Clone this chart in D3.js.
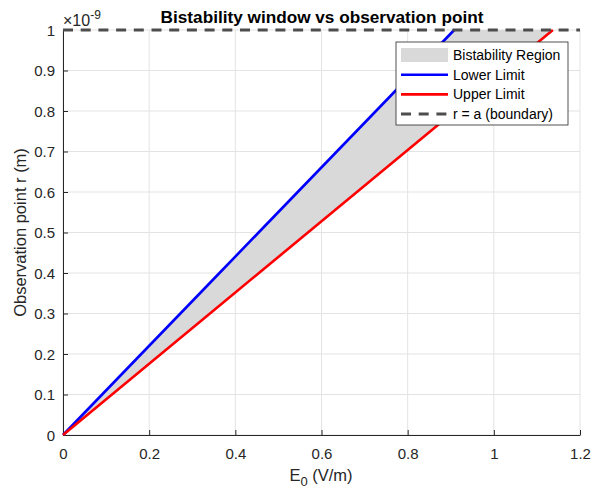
<!DOCTYPE html>
<html><head><meta charset="utf-8">
<script src="https://cdn.jsdelivr.net/npm/d3@7"></script>
<style>body{margin:0;background:#fff;} text{font-family:"Liberation Sans",Arial,sans-serif;}</style>
</head><body>
<svg id="c" width="592" height="493"></svg>
<script>
// Data (r in units of 1e-9 m)
const rVals = [0, 0.1, 0.2, 0.3, 0.4, 0.5, 0.6, 0.7, 0.8, 0.9, 1.0];
const lowerE = [0, 0.0908, 0.1816, 0.2724, 0.3632, 0.454, 0.5448, 0.6356, 0.7264, 0.8172, 0.908];
const upperE = [0, 0.1137, 0.2274, 0.3411, 0.4548, 0.5685, 0.6822, 0.7959, 0.9096, 1.0233, 1.137];
const boundaryR = 1.0;
const xTicks = [0, 0.2, 0.4, 0.6, 0.8, 1, 1.2];
const yTicks = [0, 0.1, 0.2, 0.3, 0.4, 0.5, 0.6, 0.7, 0.8, 0.9, 1];
const legendLabels = ["Bistability Region", "Lower Limit", "Upper Limit", "r = a (boundary)"];

const svg = d3.select("#c");
const L = 63, R = 580, T = 30, B = 435;
const x = d3.scaleLinear().domain([0, 1.2]).range([L, R]);
const y = d3.scaleLinear().domain([0, 1]).range([B, T]);

// grid
const g = svg.append("g");
g.selectAll(".gx").data(xTicks).enter().append("line")
  .attr("x1", d => x(d)).attr("x2", d => x(d)).attr("y1", T).attr("y2", B)
  .attr("stroke", "#e3e3e3").attr("stroke-width", 1);
g.selectAll(".gy").data(yTicks).enter().append("line")
  .attr("x1", L).attr("x2", R).attr("y1", d => y(d)).attr("y2", d => y(d))
  .attr("stroke", "#e3e3e3").attr("stroke-width", 1);

// fill region
const pts = rVals.map((r, i) => ({r, lo: lowerE[i], up: upperE[i]}));
svg.append("path")
  .attr("d", d3.area().x0(d => x(d.lo)).x1(d => x(d.up)).y(d => y(d.r))(pts))
  .attr("fill", "#d9d9d9");

// axes
const xAxis = d3.axisBottom(x).tickValues(xTicks).tickFormat(d3.format("~g")).tickSizeInner(-5).tickSizeOuter(0);
const yAxis = d3.axisLeft(y).tickValues(yTicks).tickFormat(d3.format("~g")).tickSizeInner(-5).tickSizeOuter(0).tickPadding(8);
const ax = svg.append("g").attr("transform", `translate(0,${B})`).call(xAxis);
const ay = svg.append("g").attr("transform", `translate(${L},0)`).call(yAxis);
[ax, ay].forEach(a => {
  a.select(".domain").attr("stroke", "#262626");
  a.selectAll(".tick line").attr("stroke", "#262626");
  a.selectAll(".tick text").attr("fill", "#262626").style("font-size", "15px").style("font-family", "Liberation Sans, Arial, sans-serif");
});
ax.selectAll(".tick text").attr("y", 24).attr("dy", 0);
ay.selectAll(".tick text").attr("x", -8).attr("dy", "0.35em");

// lines
const line = key => d3.line().x(d => x(d[key])).y(d => y(d.r));
svg.append("path").datum(pts).attr("d", line("lo")).attr("fill", "none").attr("stroke", "#0000ff").attr("stroke-width", 2.6);
svg.append("path").datum(pts).attr("d", line("up")).attr("fill", "none").attr("stroke", "#ff0000").attr("stroke-width", 2.6);
// boundary
svg.append("line").attr("x1", x(0)).attr("x2", x(1.2)).attr("y1", y(boundaryR)).attr("y2", y(boundaryR))
  .attr("stroke", "#4d4d4d").attr("stroke-width", 3).attr("stroke-dasharray", "10,7.7");

// exponent label
const ex = svg.append("text").attr("x", 63).attr("y", 26).attr("fill", "#262626").style("font-size", "16px");
ex.append("tspan").text("×10");
ex.append("tspan").attr("dy", -7).style("font-size", "12px").text("-9");

// title
svg.append("text").attr("x", 322).attr("y", 22.5).attr("text-anchor", "middle")
  .style("font-size", "17.2px").style("font-weight", "bold").attr("fill", "#000").text("Bistability window vs observation point");

// axis labels
const xl = svg.append("text").attr("x", 321).attr("y", 481).attr("text-anchor", "middle").attr("fill", "#262626").style("font-size", "16.5px");
xl.append("tspan").text("E");
xl.append("tspan").attr("dy", 5).style("font-size", "13px").text("0");
xl.append("tspan").attr("dy", -5).text(" (V/m)");
svg.append("text").attr("transform", `translate(25.5,${(T + B) / 2}) rotate(-90)`).attr("text-anchor", "middle")
  .attr("fill", "#262626").style("font-size", "16.5px").text("Observation point r (m)");

// legend
const lg = svg.append("g").attr("transform", "translate(396,42)");
lg.append("rect").attr("width", 172).attr("height", 83).attr("fill", "#fff").attr("stroke", "#262626").attr("stroke-width", 0.8);
legendLabels.forEach((lab, i) => {
  const cy = 13 + i * 19.7;
  if (i === 0) {
    lg.append("rect").attr("x", 5).attr("y", cy - 7).attr("width", 47).attr("height", 14).attr("fill", "#d9d9d9");
  } else {
    const col = ["", "#0000ff", "#ff0000", "#4d4d4d"][i];
    lg.append("line").attr("x1", 5).attr("x2", 52).attr("y1", cy).attr("y2", cy).attr("stroke", col)
      .attr("stroke-width", i === 3 ? 3 : 2.6).attr("stroke-dasharray", i === 3 ? "10,7.7" : null);
  }
  lg.append("text").attr("x", 57).attr("y", cy + 5).attr("fill", "#000").style("font-size", "14px").text(lab);
});
</script>
</body></html>
